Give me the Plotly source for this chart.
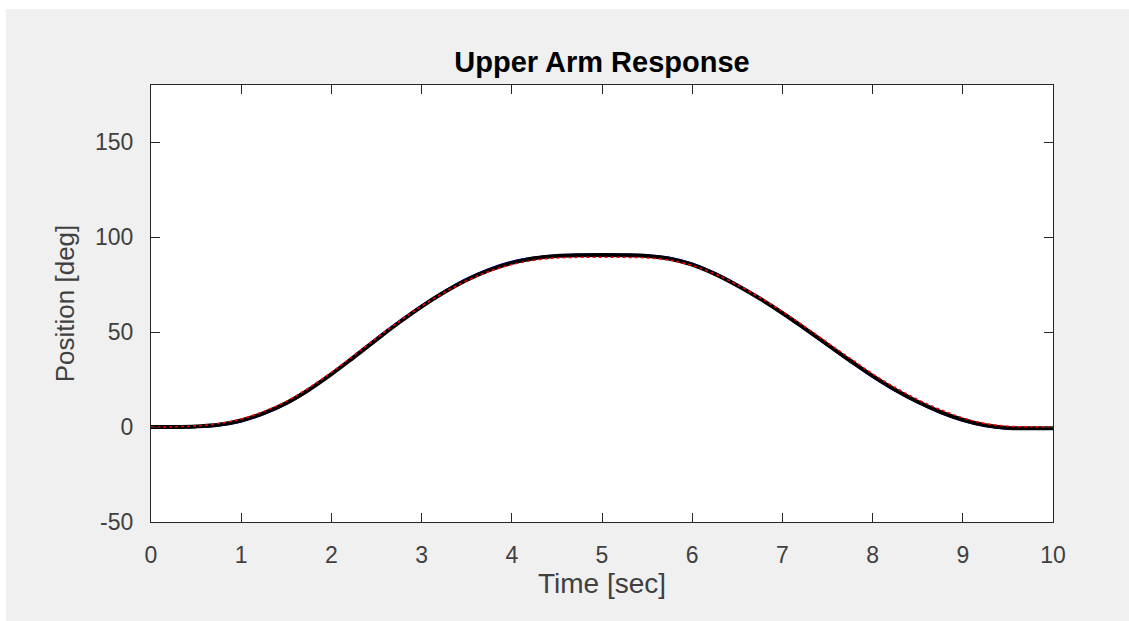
import plotly.graph_objects as go

time = [0, 0.25, 0.5, 0.75, 1.0, 1.25, 1.5, 1.75, 2.0, 2.25, 2.5, 2.75, 3.0, 3.25, 3.5, 3.75,
        4.0, 4.25, 4.5, 4.75, 5.0, 5.25, 5.5, 5.75, 6.0, 6.25, 6.5, 6.75, 7.0, 7.25, 7.5,
        7.75, 8.0, 8.25, 8.5, 8.75, 9.0, 9.25, 9.5, 9.75, 10.0]
actual = [0, 0, 0.3, 1.2, 3.4, 7.3, 12.6, 19.6, 27.8, 36.8, 46.0, 55.0, 63.4, 70.9, 77.4, 82.6,
          86.4, 88.8, 90.0, 90.4, 90.5, 90.4, 90.0, 88.6, 85.5, 80.6, 74.5, 67.6, 60.0, 51.8, 43.4,
          35.0, 26.9, 19.6, 13.3, 8.0, 3.8, 0.9, -0.5, -0.7, -0.6]
blue_resp = [0, 0, 0.1, 0.9, 3.0, 6.9, 12.2, 19.4, 28.0, 37.3, 46.6, 55.5, 63.8, 71.3, 77.9, 83.1,
             86.9, 89.1, 90.3, 90.7, 90.8, 90.7, 90.3, 89.0, 86.0, 81.0, 74.7, 67.6, 59.8, 51.5, 43.1,
             34.6, 26.5, 19.2, 12.9, 7.6, 3.4, 0.6, -0.8, -0.9, -0.7]
reference = [0, 0.1, 0.6, 1.8, 4.2, 8.2, 13.5, 20.6, 28.8, 37.8, 46.8, 55.6, 63.6, 70.8, 77.0, 81.9,
             85.5, 87.8, 89.0, 89.3, 89.4, 89.3, 89.0, 87.8, 85.0, 80.6, 74.8, 68.2, 60.8, 52.8, 44.4,
             36.2, 28.0, 20.8, 14.5, 9.2, 4.8, 1.8, 0.4, 0.1, 0.0]

x_ticks = list(range(0, 11))
y_ticks = [-50, 0, 50, 100, 150]

W, H = 1129, 621
L, R, T, B = 151, 76, 85, 99
pw, ph = W - L - R, H - T - B

fig = go.Figure()
fig.add_trace(go.Scatter(x=time, y=blue_resp, mode="lines", line=dict(color="#0000ff", width=2.5, shape="spline"),
                         showlegend=False))
fig.add_trace(go.Scatter(x=time, y=actual, mode="lines", line=dict(color="#000000", width=4, shape="spline"),
                         showlegend=False))
fig.add_trace(go.Scatter(x=time, y=reference, mode="lines", line=dict(color="#ff0000", width=1.5, dash="dot", shape="spline"),
                         showlegend=False))

axis_col = "#262626"
text_col = "#404040"
font_fam = "Liberation Sans, Arial, sans-serif"

def px2x(px):
    return (px - L) / pw

def py2y(py):
    return (H - B - py) / ph

shapes = [
    dict(type="rect", xref="paper", yref="paper", x0=px2x(-5), x1=px2x(W + 5), y0=py2y(9), y1=py2y(-5),
         fillcolor="white", line=dict(width=0), layer="below"),
    dict(type="rect", xref="paper", yref="paper", x0=px2x(-5), x1=px2x(6), y0=py2y(H + 5), y1=py2y(-5),
         fillcolor="white", line=dict(width=0), layer="below"),
]

fig.update_layout(
    width=W, height=H,
    margin=dict(l=L, r=R, t=T, b=B, pad=0),
    paper_bgcolor="#f0f0f0",
    plot_bgcolor="white",
    shapes=shapes,
    title=dict(text="<b>Upper Arm Response</b>", x=(L + pw / 2) / W, xanchor="center",
               y=1 - 62 / H, yanchor="middle",
               font=dict(family=font_fam, size=29, color="#000000")),
    font=dict(family=font_fam, color=text_col),
    xaxis=dict(range=[0, 10], tickvals=x_ticks, ticktext=[str(v) for v in x_ticks],
               showgrid=False, zeroline=False, showline=True, linecolor=axis_col, linewidth=1.2,
               mirror="ticks", ticks="inside", ticklen=9, tickcolor=axis_col, tickwidth=1.2,
               tickfont=dict(size=23, color=text_col), ticklabelstandoff=12,
               title=dict(text="Time [sec]", font=dict(size=28, color=text_col), standoff=6)),
    yaxis=dict(range=[-50, 180], tickvals=y_ticks, ticktext=[str(v) for v in y_ticks],
               showgrid=False, zeroline=False, showline=True, linecolor=axis_col, linewidth=1.2,
               mirror="ticks", ticks="inside", ticklen=9, tickcolor=axis_col, tickwidth=1.2,
               tickfont=dict(size=23, color=text_col), ticklabelstandoff=12,
               title=dict(text="Position [deg]", font=dict(size=26, color=text_col), standoff=12)),
)

fig.write_html("out.html")
